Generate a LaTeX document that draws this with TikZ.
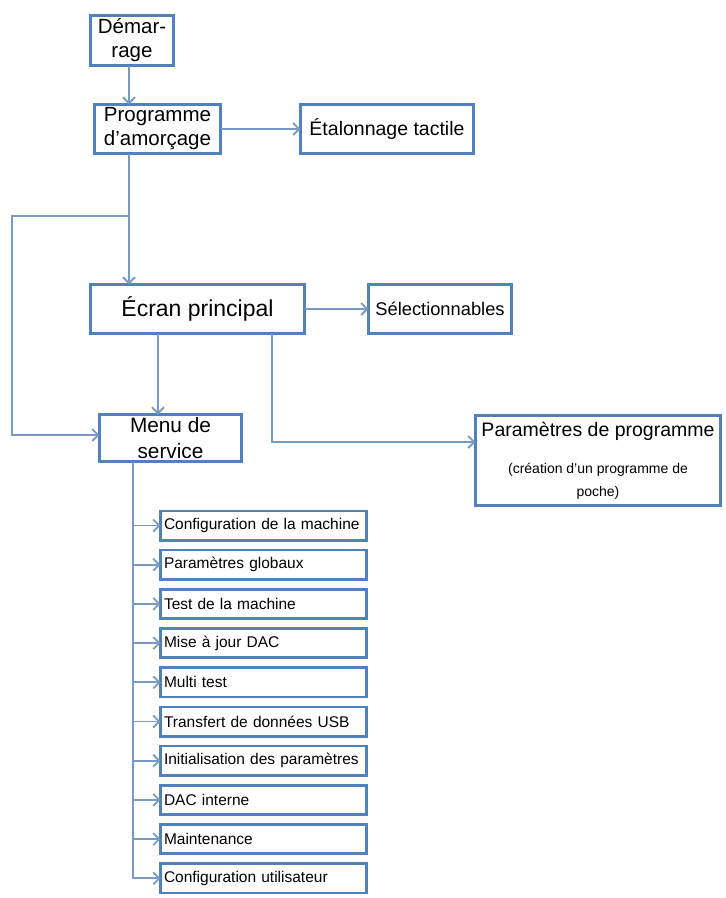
\documentclass[tikz,border=0pt]{standalone}
\usepackage{fontspec}
\setmainfont{Liberation Sans}
\usepackage{xcolor}
\usetikzlibrary{arrows.meta,positioning}
\definecolor{boxblue}{RGB}{79,129,189}
\definecolor{linkblue}{RGB}{122,154,198}

\begin{document}
\begin{tikzpicture}[
  x=1pt, y=-1pt,
  box/.style={rectangle, draw=boxblue, line width=2.7pt,
              inner sep=2pt, outer sep=0pt, align=center,
              font=\fontsize{20.5}{24}\selectfont},
  item/.style={box, minimum width=206pt, minimum height=29.3pt,
               text width=199pt, align=left,
               font=\fontsize{15.5}{18}\selectfont},
  arr/.style={-{Straight Barb[length=6pt,width=12pt]}, draw=linkblue,
              line width=1.8pt},
  link/.style={draw=linkblue, line width=1.8pt}
]
\useasboundingbox (0,0) rectangle (726,898);

\node[box, minimum width=83pt, minimum height=50pt]  (dem)  at (132,40.5) {Démar-\\rage};
\node[box, minimum width=126pt, minimum height=49pt] (prog) at (157.5,129) {Programme\\d'amorçage};
\node[box, minimum width=173pt, minimum height=49pt,
      font=\fontsize{19.5}{23}\selectfont]           (etal) at (387,129) {Étalonnage tactile};
\node[box, minimum width=214pt, minimum height=49pt,
      font=\fontsize{23}{27}\selectfont]             (ecran) at (197.5,309) {Écran principal};
\node[box, minimum width=143pt, minimum height=49pt,
      font=\fontsize{18.3}{22}\selectfont]           (sel)  at (440,309) {Sélectionnables};
\node[box, minimum width=142pt, minimum height=47pt,
      font=\fontsize{20.8}{26}\selectfont]           (menu) at (170.5,438) {Menu de\\service};
\node[box, minimum width=245pt, minimum height=90pt, text width=240pt,
      align=flush center, font=\fontsize{19.5}{23}\selectfont] (param) at (598,460.5)
     {Paramètres de programme\\[18pt]\fontsize{14}{19}\selectfont(création d’un programme de\\poche)};

\node[item] (i1) at (263.5,525.5) {Configuration de la machine};
\node[item, below=9.9pt of i1] (i2)  {Paramètres globaux};
\node[item, below=9.9pt of i2] (i3)  {Test de la machine};
\node[item, below=9.9pt of i3] (i4)  {Mise à jour DAC};
\node[item, below=9.9pt of i4] (i5)  {Multi test};
\node[item, below=9.9pt of i5] (i6)  {Transfert de données USB};
\node[item, below=9.9pt of i6] (i7)  {Initialisation des paramètres};
\node[item, below=9.9pt of i7] (i8)  {DAC interne};
\node[item, below=9.9pt of i8] (i9)  {Maintenance};
\node[item, below=9.9pt of i9] (i10) {Configuration utilisateur};

\coordinate (split) at (129,216);
\coordinate (lft)   at (12,216);
\coordinate (drop)  at (158,380);
\coordinate (tap)   at (272,442);
\coordinate (trunk) at (133,470);

\draw[arr] (dem.south -| split) -- (prog.north -| split);
\draw[arr] (prog) -- (etal);
\draw[arr] (prog.south -| split) -- (split |- ecran.north);
\draw[arr] (split) -- (lft) |- ([yshift=3pt]menu.west);
\draw[arr] (ecran) -- (sel);
\draw[arr] (ecran.south -| drop) -- (menu.north -| drop);
\draw[arr] (ecran.south -| tap) -- (tap) -- (tap -| param.west);

\draw[arr] (menu.south -| trunk) |- (i1.west);
\draw[arr] (menu.south -| trunk) |- (i2.west);
\draw[arr] (menu.south -| trunk) |- (i3.west);
\draw[arr] (menu.south -| trunk) |- (i4.west);
\draw[arr] (menu.south -| trunk) |- (i5.west);
\draw[arr] (menu.south -| trunk) |- (i6.west);
\draw[arr] (menu.south -| trunk) |- (i7.west);
\draw[arr] (menu.south -| trunk) |- (i8.west);
\draw[arr] (menu.south -| trunk) |- (i9.west);
\draw[arr] (menu.south -| trunk) |- (i10.west);

\end{tikzpicture}
\end{document}
